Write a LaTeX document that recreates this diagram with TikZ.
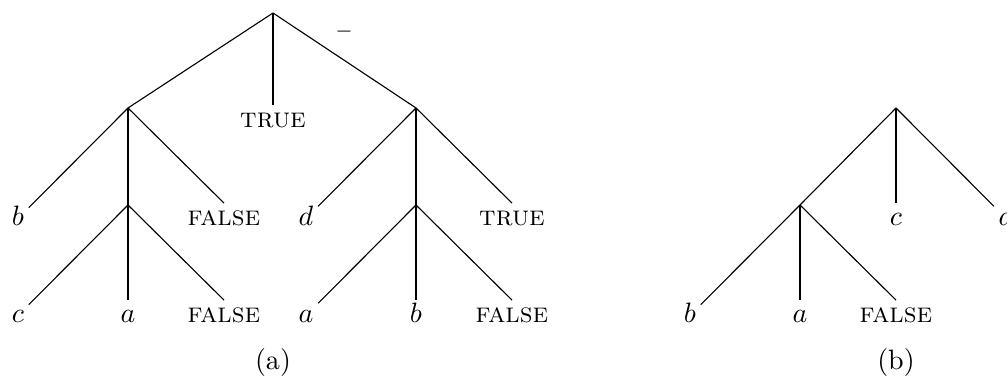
\documentclass[tikz,border=0pt]{standalone}
\usepackage{tikz}
\usetikzlibrary{positioning}

\begin{document}
\begin{tikzpicture}[x=0.357pt, y=-0.357pt, line width=0.4pt,
  leaf/.style={anchor=base, inner sep=1.5pt, text height=1.5ex, text depth=0.25ex},
  word/.style={leaf, font=\scshape},
  caption/.style={anchor=base, inner sep=0pt}]
\useasboundingbox (0,0) rectangle (1007,377);
% tree (a)
\coordinate (ra) at (273,13);
\coordinate (ra1) at (128,108);
\draw (ra) -- (ra1);
\node[word] (tru0) at (273,128) {true};
\draw (ra) -- (tru0.north);
\coordinate (ra3) at (416,108);
\draw (ra) -- (ra3);
\node[font=\scriptsize, inner sep=0pt] (bar) at (344,32) {$-$};
\node[leaf] (b1) at (18,226) {$b$};
\draw (ra1) -- (b1);
\coordinate (ra12) at (128,205);
\draw (ra1) -- (ra12);
\node[word] (fal1) at (224,226) {false};
\draw (ra1) -- (fal1.north);
\node[leaf] (c1) at (18,323) {$c$};
\draw (ra12) -- (c1);
\node[leaf] (a1) at (128,323) {$a$};
\draw (ra12) -- (a1);
\node[word] (fal2) at (224,323) {false};
\draw (ra12) -- (fal2.north);
\node[leaf] (d1) at (306,226) {$d$};
\draw (ra3) -- (d1);
\coordinate (ra32) at (416,205);
\draw (ra3) -- (ra32);
\node[word] (tru1) at (512,226) {true};
\draw (ra3) -- (tru1.north);
\node[leaf] (a2) at (306,323) {$a$};
\draw (ra32) -- (a2);
\node[leaf] (b2) at (416,323) {$b$};
\draw (ra32) -- (b2);
\node[word] (fal3) at (512,323) {false};
\draw (ra32) -- (fal3.north);
\node[caption] (capa) at (273,370) {(a)};
% tree (b)
\coordinate (rb) at (896,108);
\coordinate (rb1) at (800,205);
\draw (rb) -- (rb1);
\node[leaf] (c2) at (896,226) {$c$};
\draw (rb) -- (c2);
\node[leaf] (d2) at (1006,226) {$d$};
\draw (rb) -- (d2);
\node[leaf] (b3) at (690,323) {$b$};
\draw (rb1) -- (b3);
\node[leaf] (a3) at (800,323) {$a$};
\draw (rb1) -- (a3);
\node[word] (fal4) at (896,323) {false};
\draw (rb1) -- (fal4.north);
\node[caption] (capb) at (896,370) {(b)};
\end{tikzpicture}
\end{document}
